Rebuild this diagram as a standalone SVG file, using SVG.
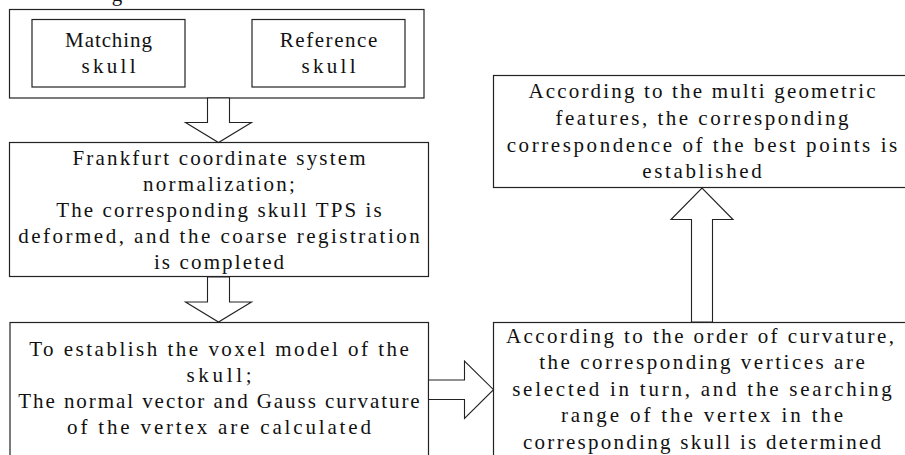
<svg xmlns="http://www.w3.org/2000/svg" width="905" height="455" viewBox="0 0 905 455">
<style>
.box{fill:#fff;stroke:#222;stroke-width:1.2}
.arr{fill:#fff;stroke:#222;stroke-width:1.1;stroke-linejoin:miter}
text{font-family:"Liberation Serif","Noto Sans CJK SC",serif;font-size:21px;fill:#111;text-anchor:middle}
</style>
<rect width="905" height="455" fill="#fff"/>
<text x="117" y="1">g</text>
<g id="input-group">
<rect class="box" x="9.5" y="9.5" width="414.5" height="88.5"/>
</g>
<g id="matching-skull">
<rect class="box" x="32" y="19.5" width="153" height="67.5"/>
<text x="108.5" y="46.7" textLength="86.8" lengthAdjust="spacing">Matching</text>
<text x="108.5" y="72.7" textLength="54.2" lengthAdjust="spacing">skull</text>
</g>
<g id="reference-skull">
<rect class="box" x="252" y="19.5" width="153" height="67.5"/>
<text x="328.5" y="46.7" textLength="97.6" lengthAdjust="spacing">Reference</text>
<text x="328.5" y="72.7" textLength="54.2" lengthAdjust="spacing">skull</text>
</g>
<g id="frankfurt">
<rect class="box" x="9.5" y="142.5" width="419" height="134"/>
<text x="219" y="164.5" textLength="293" lengthAdjust="spacing">Frankfurt coordinate system</text>
<text x="219" y="190.7" textLength="151.9" lengthAdjust="spacing">normalization;</text>
<text x="219" y="216.9" textLength="325.5" lengthAdjust="spacing">The corresponding skull TPS is</text>
<text x="219" y="243.1" textLength="401.4" lengthAdjust="spacing">deformed, and the coarse registration</text>
<text x="219" y="269.3" textLength="130.2" lengthAdjust="spacing">is completed</text>
</g>
<g id="voxel-model">
<rect class="box" x="10" y="322.5" width="418.5" height="145"/>
<text x="219" y="356" textLength="379.7" lengthAdjust="spacing">To establish the voxel model of the</text>
<text x="219" y="382" textLength="65.1" lengthAdjust="spacing">skull;</text>
<text x="219" y="408" textLength="401.4" lengthAdjust="spacing">The normal vector and Gauss curvature</text>
<text x="219" y="434" textLength="303.8" lengthAdjust="spacing">of the vertex are calculated</text>
</g>
<g id="curvature-order">
<rect class="box" x="493.5" y="322.5" width="420" height="145"/>
<text x="700" y="342.7" textLength="388" lengthAdjust="spacing">According to the order of curvature,</text>
<text x="702" y="369.2" textLength="325.5" lengthAdjust="spacing">the corresponding vertices are</text>
<text x="702" y="395.7" textLength="379.7" lengthAdjust="spacing">selected in turn, and the searching</text>
<text x="702" y="422.2" textLength="282.1" lengthAdjust="spacing">range of the vertex in the</text>
<text x="702" y="448.7" textLength="358" lengthAdjust="spacing">corresponding skull is determined</text>
</g>
<g id="best-points">
<rect class="box" x="493.5" y="75.5" width="420" height="112"/>
<text x="702" y="98.3" textLength="347.2" lengthAdjust="spacing">According to the multi geometric</text>
<text x="702" y="125" textLength="293" lengthAdjust="spacing">features, the corresponding</text>
<text x="702" y="151.7" textLength="390.6" lengthAdjust="spacing">correspondence of the best points is</text>
<text x="702" y="178.3" textLength="119.3" lengthAdjust="spacing">established</text>
</g>
<g id="connectors">
<polygon class="arr" points="207.5,98 229.5,98 229.5,122.5 251.5,122.5 218.5,142.5 185.5,122.5 207.5,122.5"/>
<polygon class="arr" points="207.5,277 229.5,277 229.5,302 251.5,302 218.5,322 185.5,302 207.5,302"/>
<polygon class="arr" points="428.5,380 464.5,380 464.5,361 493.5,389.7 464.5,418.5 464.5,399.5 428.5,399.5"/>
<polygon class="arr" points="691.5,322 691.5,219.5 671,219.5 702,188 733,219.5 712.5,219.5 712.5,322"/>
</g>
</svg>
